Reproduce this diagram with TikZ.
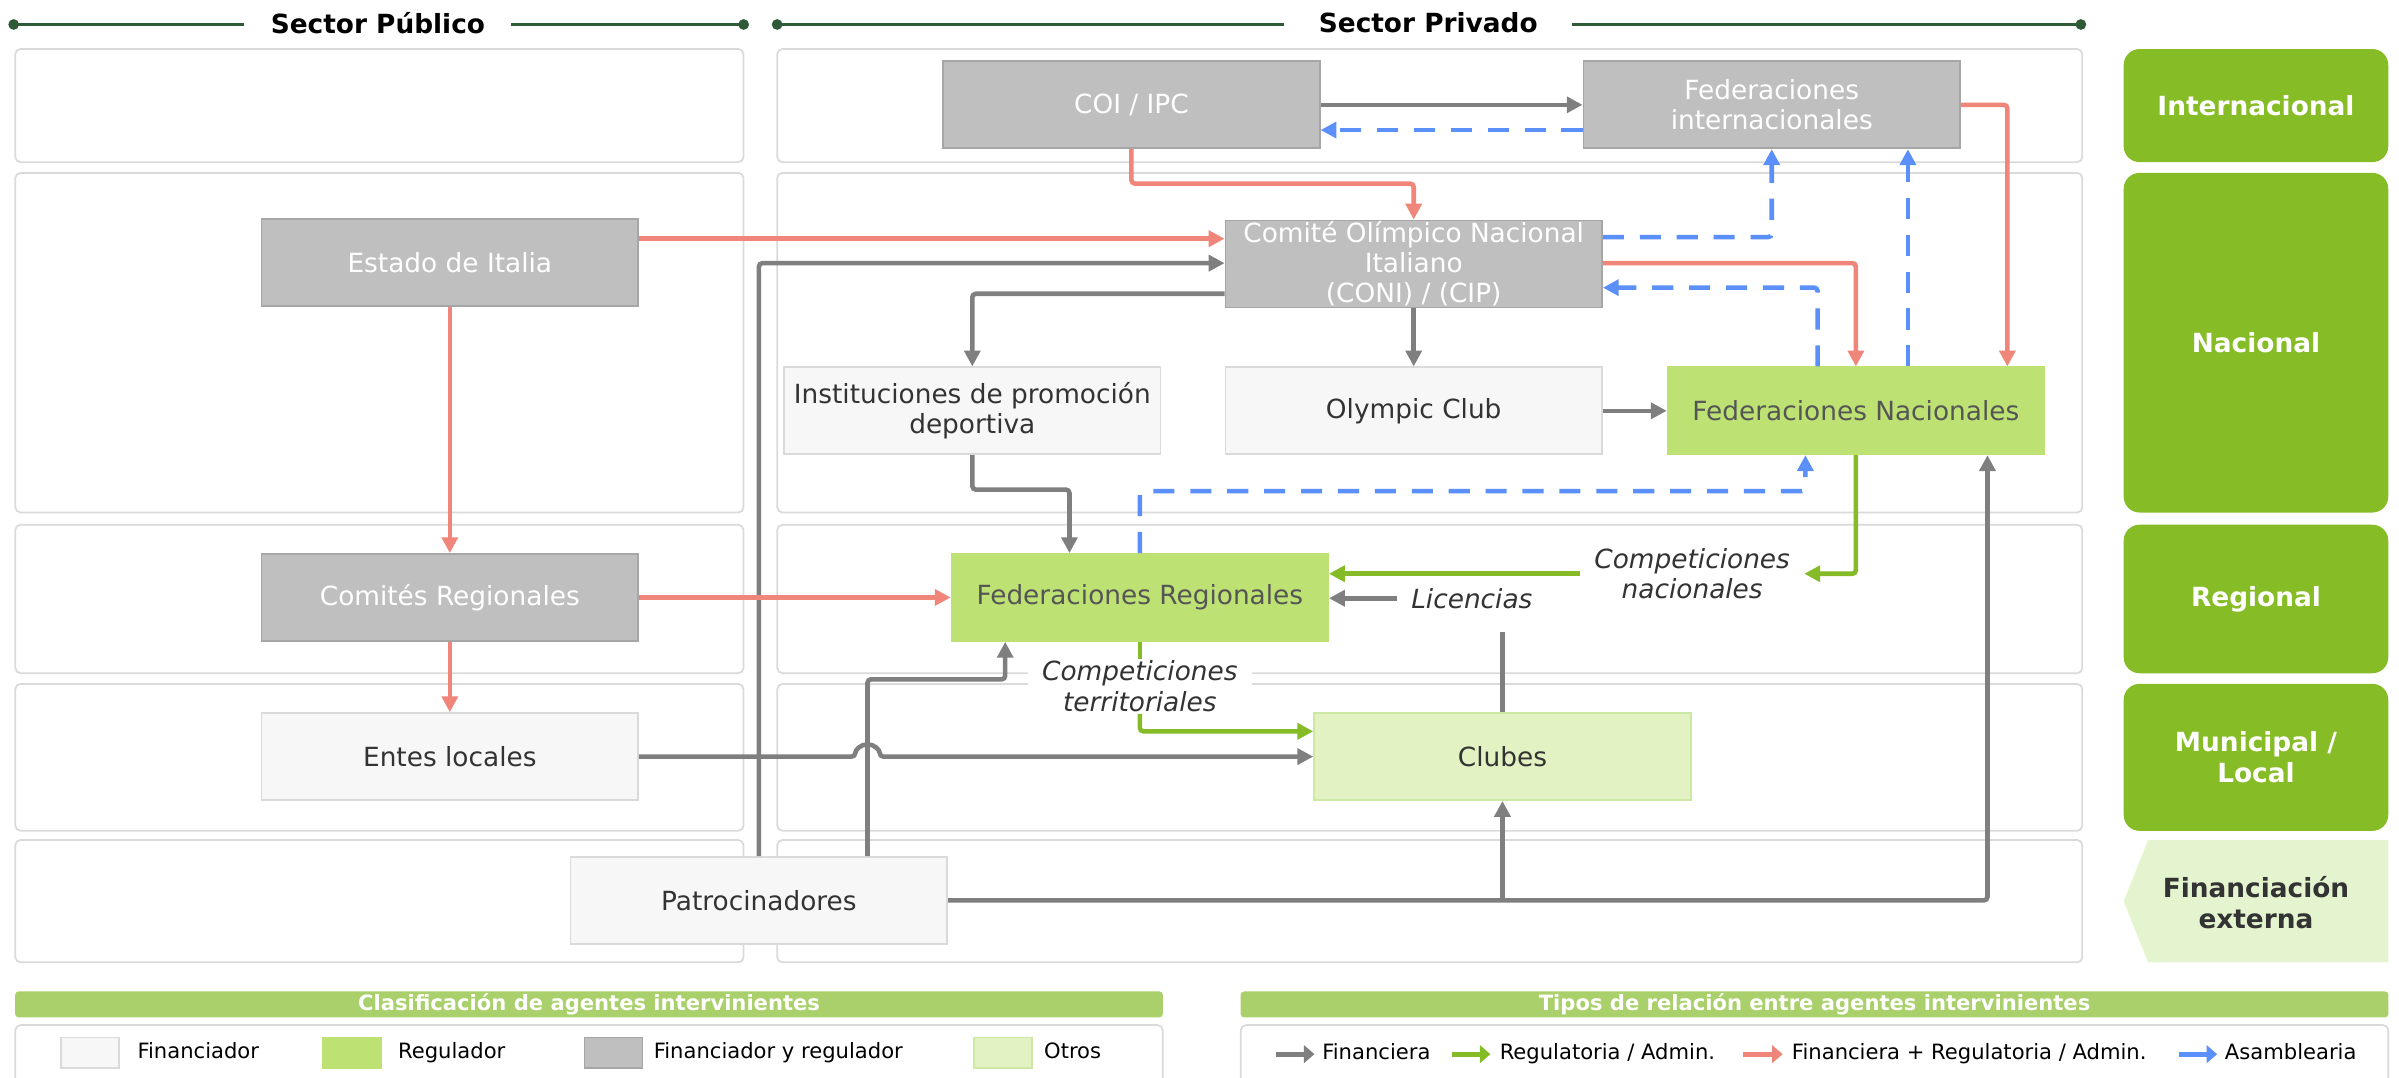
\documentclass[tikz,border=0pt]{standalone}
\usepackage{fontspec}
\setmainfont{DejaVu Sans}
\usepackage{xcolor}
\definecolor{headGreen}{HTML}{2E5A38}
\definecolor{panelGray}{HTML}{DADADA}
\definecolor{levelGreen}{HTML}{86BC25}
\definecolor{extGreen}{HTML}{E3F4CF}
\definecolor{legendGreen}{HTML}{A9D06A}
\definecolor{boxGray}{HTML}{BFBFBF}
\definecolor{boxGrayLine}{HTML}{A6A6A6}
\definecolor{boxLight}{HTML}{F7F7F7}
\definecolor{boxLightLine}{HTML}{DADADA}
\definecolor{boxGreen}{HTML}{BDE273}
\definecolor{boxPale}{HTML}{E2F2C2}
\definecolor{boxPaleLine}{HTML}{CDE8A4}
\definecolor{textDark}{HTML}{333333}
\definecolor{textGreen}{HTML}{555555}
\definecolor{relGray}{HTML}{7F7F7F}
\definecolor{relGreen}{HTML}{84BB27}
\definecolor{relRed}{HTML}{F0857A}
\definecolor{relBlue}{HTML}{5B8FF9}
\usepackage{tikz}
\usetikzlibrary{arrows.meta, positioning}

\begin{document}
\begin{tikzpicture}[
		x=0.0306cm, y=-0.0306cm,
		font=\fontsize{15}{17}\selectfont,
		panel/.style={draw=panelGray, line width=1pt, rounded corners=3pt, fill=white},
		level/.style={
			fill=levelGreen,
			rounded corners=9pt,
			text=white,
			align=center,
			minimum width=5.29cm,
			font=\fontsize{15}{17.5}\selectfont\bfseries
		},
		header/.style={draw=headGreen, line width=1.5pt},
		sector/.style={font=\fontsize{15}{17}\selectfont\bfseries},
		box/.style={
			draw,
			line width=1pt,
			minimum width=7.53cm,
			minimum height=1.74cm,
			align=center,
			inner sep=2pt
		},
		financiador/.style={box, fill=boxLight, draw=boxLightLine, text=textDark},
		regulador/.style={box, fill=boxGreen, draw=boxGreen, text=textGreen},
		ambos/.style={box, fill=boxGray, draw=boxGrayLine, text=white},
		otros/.style={box, fill=boxPale, draw=boxPaleLine, text=textDark},
		etiqueta/.style={
			fill=white,
			align=center,
			text=textDark,
			inner xsep=8pt,
			inner ysep=1pt,
			font=\fontsize{15}{17.5}\selectfont\itshape
		},
		rel/.style={line width=2.6pt, rounded corners=2pt, -{Triangle[length=9pt, width=9pt]}},
		financiera/.style={rel, draw=relGray},
		regulatoria/.style={rel, draw=relGreen},
		mixta/.style={rel, draw=relRed},
		asamblearia/.style={rel, draw=relBlue, dash pattern=on 12pt off 9pt},
		legHead/.style={
			fill=legendGreen,
			rounded corners=2pt,
			text=white,
			minimum width=22.95cm,
			minimum height=0.52cm,
			inner sep=0pt,
			font=\fontsize{12}{13}\selectfont\bfseries
		},
		swatch/.style={draw, line width=1pt, minimum width=1.16cm, minimum height=0.61cm, inner sep=0pt},
		legText/.style={anchor=west, inner sep=0pt, text height=9pt, text depth=2.5pt, text=black, font=\fontsize{12}{14}\selectfont},
		legArrow/.style={line width=3pt, -{Triangle[length=6pt, width=10pt]}}
		]
		
		\useasboundingbox (0,0) rectangle (1568,704);
		
		\draw[panel] (10,32) rectangle (486,106);
		\draw[panel] (508,32) rectangle (1361,106);
		\draw[panel] (10,113) rectangle (486,335);
		\draw[panel] (508,113) rectangle (1361,335);
		\draw[panel] (10,343) rectangle (486,440);
		\draw[panel] (508,343) rectangle (1361,440);
		\draw[panel] (10,447) rectangle (486,543);
		\draw[panel] (508,447) rectangle (1361,543);
		\draw[panel] (10,549) rectangle (486,629);
		\draw[panel] (508,549) rectangle (1361,629);
		
		\node[level, minimum height=2.26cm] (internacional) at (1474.5,69) {Internacional};
		\node[level, minimum height=6.79cm] (nacional) at (1474.5,224) {Nacional};
		\node[level, minimum height=2.97cm] (regional) at (1474.5,391.5) {Regional};
		\node[level, minimum height=2.94cm] (municipal) at (1474.5,495) {Municipal /\\Local};
		\fill[extGreen] (1404,549) -- (1561,549) -- (1561,629) -- (1404,629) -- (1388,589) -- cycle;
		\node[align=center, text=textDark, font=\fontsize{15}{17.5}\selectfont\bfseries] (externa) at (1474.5,590) {Financiación\\externa};
		
		\node[sector, inner xsep=0.52cm] (publico) at (247,15) {Sector Público};
		\node[sector, inner xsep=0.69cm] (privado) at (933.5,15) {Sector Privado};
		\draw[header, {Circle[length=6pt]}-] (5.5,16) -- (publico.west |- 0,16);
		\draw[header, -{Circle[length=6pt]}] (publico.east |- 0,16) -- (489.5,16);
		\draw[header, {Circle[length=6pt]}-] (504.5,16) -- (privado.west |- 0,16);
		\draw[header, -{Circle[length=6pt]}] (privado.east |- 0,16) -- (1363.5,16);
		
		\node[ambos] (coi) at (739.5,68.5) {COI / IPC};
		\node[ambos] (fedInt) at (1158,68.5) {Federaciones\\internacionales};
		\node[ambos] (estado) at (294,171.5) {Estado de Italia};
		\node[ambos, inner ysep=0pt, font=\fontsize{15}{17.2}\selectfont] (coni) at (924,172.5) {Comité Olímpico Nacional\\Italiano\\(CONI) / (CIP)};
		\node[financiador] (inst) at (635.5,268.5) {Instituciones de promoción\\deportiva};
		\node[financiador] (olympic) at (924,268.5) {Olympic Club};
		\node[regulador] (fedNac) at (1213,268.5) {Federaciones Nacionales};
		\node[ambos] (comReg) at (294,390.5) {Comités Regionales};
		\node[regulador] (fedReg) at (745,390.5) {Federaciones Regionales};
		\node[financiador] (entes) at (294,494.5) {Entes locales};
		\node[otros] (clubes) at (982,494.5) {Clubes};
		\node[financiador] (patro) at (496,588.5) {Patrocinadores};
		
		\node[etiqueta] (compNac) at (1106,375) {Competiciones\\nacionales};
		\node[etiqueta] (licencias) at (962,391) {Licencias};
		\node[etiqueta] (compTer) at (745,448.5) {Competiciones\\territoriales};
		
		\draw[financiera] (coi.east) -- (fedInt.west);
		\draw[asamblearia] (fedInt.west |- 0,85) -- (coi.east |- 0,85);
		\draw[mixta] (coi.south) |- (924,120) -- (coni.north);
		\draw[mixta] (fedInt.east) -| (1312,0 |- fedNac.north);
		
		\draw[mixta] (estado.east |- 0,156) -- (coni.west |- 0,156);
		\draw[financiera] (patro.north) |- (coni.west |- 0,172);
		\draw[financiera] (coni.west |- 0,192) -| (inst.north);
		\draw[financiera] (coni.south) -- (olympic.north);
		\draw[asamblearia] (coni.east |- 0,155) -| (fedInt.south);
		\draw[asamblearia] (1188,0 |- fedNac.north) |- (coni.east |- 0,188);
		\draw[mixta] (coni.east |- 0,172) -| (fedNac.north);
		\draw[asamblearia] (1247,0 |- fedNac.north) -- (1247,0 |- fedInt.south);
		\draw[financiera] (olympic.east) -- (fedNac.west);
		\draw[financiera] (inst.south) |- (699,320) -- (699,0 |- fedReg.north);
		\draw[asamblearia] (fedReg.north) |- (1180,321) -- (1180,0 |- fedNac.south);
		
		\draw[mixta] (estado.south) -- (comReg.north);
		\draw[mixta] (comReg.east) -- (fedReg.west);
		\draw[mixta] (comReg.south) -- (entes.north);
		\draw[regulatoria] (fedNac.south) |- (compNac.east);
		\draw[regulatoria] (compNac.west) -- (fedReg.east |- compNac.west);
		\draw[financiera, -] (clubes.north) -- (clubes.north |- 0,413);
		\draw[financiera] (licencias.west) -- (fedReg.east |- licencias.west);
		\draw[regulatoria, -] (fedReg.south) -- (compTer.north);
		\draw[regulatoria] (compTer.south) |- (clubes.west |- 0,478);
		
		\draw[financiera] (entes.east) -- (559,494.5) arc[start angle=180, end angle=0, radius=0.245cm] -- (clubes.west);
		\draw[financiera] (567,0 |- patro.north) |- (657,444) -- (657,0 |- fedReg.south);
		\draw[financiera] (patro.east) -| (1299,0 |- fedNac.south);
		\draw[financiera] (clubes.south |- patro.east) -- (clubes.south);
		
		\node[legHead] (clasificacion) at (385,656.5) {Clasificación de agentes intervinientes};
		\node[legHead] (tipos) at (1186,656.5) {Tipos de relación entre agentes intervinientes};
		\draw[panel] (10,670) rectangle (760,730);
		\draw[panel] (811,670) rectangle (1561,730);
		
		\node[swatch, fill=boxLight, draw=boxLightLine] (swFin) at (59,688) {};
		\node[legText, right=0.34cm of swFin] (tFin) {Financiador};
		\node[swatch, fill=boxGreen, draw=boxGreen] (swReg) at (230,688) {};
		\node[legText, right=0.32cm of swReg] (tReg) {Regulador};
		\node[swatch, fill=boxGray, draw=boxGrayLine] (swAmbos) at (401,688) {};
		\node[legText, right=0.2cm of swAmbos] (tAmbos) {Financiador y regulador};
		\node[swatch, fill=boxPale, draw=boxPaleLine] (swOtros) at (655.5,688) {};
		\node[legText, right=0.22cm of swOtros] (tOtros) {Otros};
		
		\node[legText] (tFinanciera) at (864,689) {Financiera};
		\node[legText] (tRegulatoria) at (980,689) {Regulatoria / Admin.};
		\node[legText] (tMixta) at (1171,689) {Financiera + Regulatoria / Admin.};
		\node[legText] (tAsamblearia) at (1454,689) {Asamblearia};
		\draw[legArrow, draw=relGray] ([xshift=-0.92cm]tFinanciera.west) -- ([xshift=-0.15cm]tFinanciera.west);
		\draw[legArrow, draw=relGreen] ([xshift=-0.95cm]tRegulatoria.west) -- ([xshift=-0.18cm]tRegulatoria.west);
		\draw[legArrow, draw=relRed] ([xshift=-0.98cm]tMixta.west) -- ([xshift=-0.18cm]tMixta.west);
		\draw[legArrow, draw=relBlue] ([xshift=-0.92cm]tAsamblearia.west) -- ([xshift=-0.15cm]tAsamblearia.west);
		
	\end{tikzpicture}
\end{document}
